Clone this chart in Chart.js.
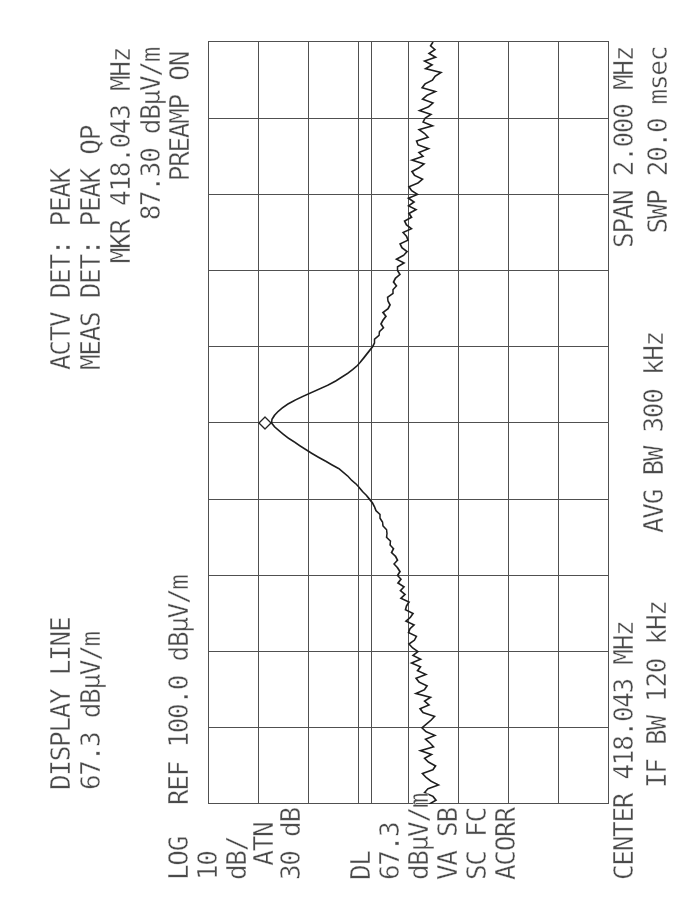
<!DOCTYPE html>
<html>
<head>
<meta charset="utf-8">
<script src="https://cdn.jsdelivr.net/npm/chart.js@4.4.1/dist/chart.umd.min.js"></script>
<style>
  html, body { margin: 0; padding: 0; background: #fff; overflow: hidden; }
  #screen {
    position: absolute; left: 0; top: 0;
    width: 898px; height: 681px;
    transform-origin: 0 0;
    transform: translateY(898px) rotate(-90deg);
  }
  #screen canvas { position: absolute; left: 0; top: 0; }
  .t {
    position: absolute;
    font-family: "DejaVu Sans Mono", monospace;
    font-size: 26px;
    line-height: 26px;
    letter-spacing: -1.3px;
    color: #4a4a4a;
    -webkit-text-stroke: 0.4px #fff;
    white-space: pre;
  }
</style>
</head>
<body>
<div id="screen">
  <canvas id="trace" width="898" height="681"></canvas>
</div>
<script>
// sweep 417.043 .. 419.043 MHz (span 2 MHz around the marker)
const freqMHz = [
  417.043, 417.053, 417.063, 417.073, 417.083, 417.093, 417.103, 417.113, 417.123, 417.133,
  417.143, 417.153, 417.163, 417.173, 417.183, 417.193, 417.203, 417.213, 417.223, 417.233,
  417.243, 417.253, 417.263, 417.273, 417.283, 417.293, 417.303, 417.313, 417.323, 417.333,
  417.343, 417.353, 417.363, 417.373, 417.383, 417.393, 417.403, 417.413, 417.423, 417.433,
  417.443, 417.453, 417.463, 417.473, 417.483, 417.493, 417.503, 417.513, 417.523, 417.533,
  417.543, 417.553, 417.563, 417.573, 417.583, 417.593, 417.603, 417.613, 417.623, 417.633,
  417.643, 417.653, 417.663, 417.673, 417.683, 417.693, 417.703, 417.713, 417.723, 417.733,
  417.743, 417.753, 417.763, 417.773, 417.783, 417.793, 417.803, 417.813, 417.823, 417.833,
  417.843, 417.853, 417.863, 417.873, 417.883, 417.893, 417.903, 417.913, 417.923, 417.933,
  417.943, 417.953, 417.963, 417.973, 417.983, 417.993, 418.003, 418.013, 418.023, 418.033,
  418.043, 418.053, 418.063, 418.073, 418.083, 418.093, 418.103, 418.113, 418.123, 418.133,
  418.143, 418.153, 418.163, 418.173, 418.183, 418.193, 418.203, 418.213, 418.223, 418.233,
  418.243, 418.253, 418.263, 418.273, 418.283, 418.293, 418.303, 418.313, 418.323, 418.333,
  418.343, 418.353, 418.363, 418.373, 418.383, 418.393, 418.403, 418.413, 418.423, 418.433,
  418.443, 418.453, 418.463, 418.473, 418.483, 418.493, 418.503, 418.513, 418.523, 418.533,
  418.543, 418.553, 418.563, 418.573, 418.583, 418.593, 418.603, 418.613, 418.623, 418.633,
  418.643, 418.653, 418.663, 418.673, 418.683, 418.693, 418.703, 418.713, 418.723, 418.733,
  418.743, 418.753, 418.763, 418.773, 418.783, 418.793, 418.803, 418.813, 418.823, 418.833,
  418.843, 418.853, 418.863, 418.873, 418.883, 418.893, 418.903, 418.913, 418.923, 418.933,
  418.943, 418.953, 418.963, 418.973, 418.983, 418.993, 419.003, 419.013, 419.023, 419.033,
  419.043
];

// measured field strength, dBuV/m
const levelDbuv = [
  55.7, 54.4, 55.0, 56.7, 56.0, 53.9, 55.4, 56.4, 57.1, 55.0,
  54.5, 55.9, 56.7, 55.3, 57.5, 54.9, 55.6, 56.5, 54.6, 56.4,
  57.2, 56.3, 55.4, 54.7, 57.0, 57.6, 55.8, 56.7, 55.5, 58.4,
  56.7, 56.2, 57.8, 58.4, 56.4, 58.1, 57.5, 59.3, 57.5, 59.0,
  58.0, 59.1, 59.8, 58.7, 58.3, 59.9, 59.6, 58.8, 60.4, 59.5,
  59.0, 60.5, 60.3, 59.8, 61.4, 60.6, 61.5, 60.8, 62.0, 61.4,
  62.1, 61.6, 62.1, 62.8, 62.1, 62.5, 63.3, 62.9, 63.6, 63.5,
  64.3, 64.2, 64.3, 65.0, 65.1, 65.6, 65.6, 66.4, 66.7, 67.1,
  67.7, 68.3, 69.1, 69.7, 70.4, 71.3, 72.0, 72.9, 73.8, 75.2,
  76.5, 77.9, 79.2, 80.4, 81.6, 82.7, 83.9, 84.9, 85.8, 86.7,
  87.3, 87.2, 86.7, 86.0, 85.1, 84.0, 82.6, 81.0, 79.3, 77.6,
  75.9, 74.5, 73.3, 72.1, 71.1, 70.2, 69.5, 68.9, 68.3, 67.7,
  67.1, 66.7, 66.7, 65.8, 65.7, 64.9, 65.4, 65.0, 64.4, 65.0,
  64.0, 63.6, 64.0, 64.1, 63.0, 63.0, 62.3, 62.9, 62.5, 61.6,
  62.1, 62.1, 60.8, 62.3, 60.9, 60.2, 61.2, 61.6, 60.0, 60.3,
  61.0, 59.3, 60.3, 60.7, 59.3, 59.8, 58.4, 59.9, 58.8, 59.9,
  58.1, 59.3, 59.8, 58.0, 57.1, 58.7, 59.2, 57.8, 56.8, 59.2,
  57.0, 57.8, 55.9, 58.0, 58.3, 56.0, 56.7, 57.8, 55.1, 57.0,
  56.6, 55.4, 57.7, 55.9, 55.0, 57.1, 56.2, 54.5, 57.2, 56.6,
  55.1, 54.6, 53.4, 56.5, 55.2, 56.7, 54.5, 55.8, 54.6, 55.5,
  55.0
];

const refLevel = 100.0;
const bottomLevel = 20.0;
const displayLineDb = 67.3;
const markerMHz = 418.043;
const markerSymbolDb = 88.6;   // where the diamond sits on the plot

// annotation texts around the screen (unrotated screen coords)
const labels = [
  { text: "DISPLAY LINE", left: 108, v: 62 },
  { text: "67.3 dBµV/m", left: 108, v: 92 },
  { text: "ACTV DET: PEAK", left: 528, v: 62 },
  { text: "MEAS DET: PEAK QP", left: 528, v: 92 },
  { text: "MKR 418.043 MHz", right: 48, v: 122 },
  { text: "87.30 dBµV/m", right: 48, v: 152 },
  { text: "REF 100.0 dBµV/m", left: 93, v: 180 },
  { text: "PREAMP ON", right: 52, v: 181 },
  { text: "LOG", left: 18, v: 180 },
  { text: "10", left: 18, v: 209 },
  { text: "dB/", left: 18, v: 238 },
  { text: " ATN", left: 18, v: 265 },
  { text: "30 dB", left: 18, v: 292 },
  { text: "DL", left: 18, v: 362 },
  { text: "67.3", left: 18, v: 391 },
  { text: "dBµV/m", left: 18, v: 420 },
  { text: "VA SB", left: 18, v: 449 },
  { text: "SC FC", left: 18, v: 478 },
  { text: "ACORR", left: 18, v: 507 },
  { text: "CENTER 418.043 MHz", left: 18, v: 625 },
  { text: "IF BW 120 kHz", left: 110, v: 658 },
  { text: "AVG BW 300 kHz", left: 365, v: 655 },
  { text: "SPAN 2.000 MHz", right: 47, v: 625 },
  { text: "SWP 20.0 msec", right: 47, v: 659 }
];

const screen = document.getElementById("screen");
labels.forEach((l) => {
  const d = document.createElement("div");
  d.className = "t";
  d.textContent = l.text;
  d.style.top = (l.v - 14) + "px";
  if (l.left !== undefined) d.style.left = l.left + "px";
  else d.style.right = l.right + "px";
  screen.appendChild(d);
});

const gridColor = "#505050";

new Chart(document.getElementById("trace"), {
  type: "line",
  data: {
    labels: freqMHz,
    datasets: [
      {
        label: "Trace",
        data: levelDbuv,
        borderColor: "#1e1e1e",
        borderWidth: 1.6,
        pointRadius: 0,
        tension: 0,
        fill: false
      },
      {
        label: "Display line",
        data: [{ x: freqMHz[0], y: displayLineDb }, { x: freqMHz[freqMHz.length - 1], y: displayLineDb }],
        borderColor: gridColor,
        borderWidth: 1,
        pointRadius: 0,
        fill: false
      },
      {
        label: "Marker",
        data: [{ x: markerMHz, y: markerSymbolDb }],
        showLine: false,
        pointStyle: "rectRot",
        pointRadius: 6,
        pointBorderWidth: 1.3,
        pointBorderColor: "#222",
        pointBackgroundColor: "#fff"
      }
    ]
  },
  options: {
    responsive: false,
    animation: false,
    devicePixelRatio: 1,
    layout: { padding: { left: 94, right: 42, top: 208, bottom: 73 } },
    plugins: { legend: { display: false }, tooltip: { enabled: false } },
    scales: {
      x: {
        type: "linear",
        min: freqMHz[0],
        max: freqMHz[freqMHz.length - 1],
        ticks: { display: false, count: 11 },
        grid: { color: gridColor, lineWidth: 1, drawTicks: false },
        border: { display: true, color: gridColor, width: 1 },
        afterFit: (scale) => { scale.height = 0; }
      },
      y: {
        min: bottomLevel,
        max: refLevel,
        ticks: { display: false, count: 9 },
        grid: { color: gridColor, lineWidth: 1, drawTicks: false },
        border: { display: true, color: gridColor, width: 1 },
        afterFit: (scale) => { scale.width = 0; }
      }
    }
  }
});
</script>
</body>
</html>
